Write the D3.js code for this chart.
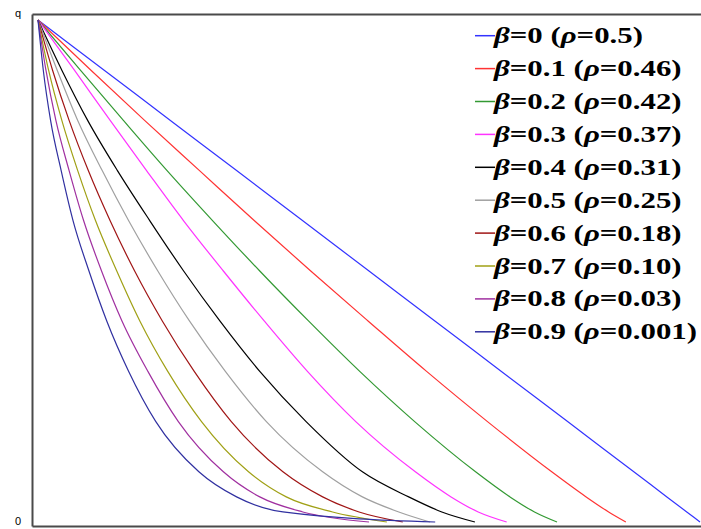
<!DOCTYPE html>
<html>
<head>
<meta charset="utf-8">
<script src="https://cdn.jsdelivr.net/npm/d3@7"></script>
<style>
  html, body { margin: 0; padding: 0; background: #ffffff; }
  svg { display: block; }
  .legend-label { font-family: "Liberation Serif", "DejaVu Serif", serif; font-weight: bold; }
  .end-label { font-family: "Liberation Sans", Arial, sans-serif; }
</style>
</head>
<body>
<svg id="chart" width="701" height="529"></svg>
<script>
// q levels at which each curve's horizontal position is listed
const qLevels = [1, 0.9, 0.8, 0.7, 0.6, 0.5, 0.4, 0.3, 0.2, 0.1, 0.05, 0.02, 0];

// legend labels and series colours
const betaLabels = ["0", "0.1", "0.2", "0.3", "0.4", "0.5", "0.6", "0.7", "0.8", "0.9"];
const rhoLabels = ["0.5", "0.46", "0.42", "0.37", "0.31", "0.25", "0.18", "0.10", "0.03", "0.001"];
const seriesColors = ["#3333ff", "#ff3333", "#339933", "#ff33ff", "#000000",
                      "#a0a0a0", "#a01515", "#a0a015", "#a030a0", "#3030a0"];

// horizontal position (0..1) of each curve at the q levels above
const beta00 = [0, 0.100, 0.200, 0.300, 0.400, 0.500, 0.600, 0.700, 0.800, 0.900, 0.950, 0.980, 1.000];
const beta01 = [0, 0.080, 0.161, 0.244, 0.327, 0.412, 0.499, 0.587, 0.679, 0.776, 0.828, 0.862, 0.888];
const beta02 = [0, 0.064, 0.129, 0.195, 0.264, 0.335, 0.409, 0.486, 0.569, 0.661, 0.713, 0.750, 0.784];
const beta03 = [0, 0.055, 0.109, 0.164, 0.220, 0.280, 0.342, 0.407, 0.480, 0.570, 0.624, 0.665, 0.708];
const beta04 = [0, 0.036, 0.075, 0.120, 0.169, 0.220, 0.275, 0.335, 0.405, 0.490, 0.560, 0.610, 0.660];
const beta05 = [0, 0.029, 0.060, 0.097, 0.137, 0.181, 0.229, 0.283, 0.345, 0.430, 0.490, 0.545, 0.592];
const beta06 = [0, 0.022, 0.047, 0.076, 0.109, 0.146, 0.188, 0.236, 0.292, 0.370, 0.430, 0.485, 0.551];
const beta07 = [0, 0.016, 0.036, 0.060, 0.087, 0.119, 0.154, 0.196, 0.247, 0.318, 0.375, 0.445, 0.527];
const beta08 = [0, 0.012, 0.027, 0.047, 0.069, 0.096, 0.127, 0.166, 0.212, 0.280, 0.335, 0.400, 0.500];
const beta09 = [0, 0.008, 0.019, 0.035, 0.053, 0.077, 0.104, 0.137, 0.178, 0.243, 0.300, 0.370, 0.600];

const seriesX = [beta00, beta01, beta02, beta03, beta04, beta05, beta06, beta07, beta08, beta09];

// axis end labels
const yTickValues = [0, 1];
const yTickLabels = ["0", "q"];

const svg = d3.select("#chart");

// plotting scales
const x = d3.scaleLinear().domain([0, 1]).range([38, 700]);
const y = d3.scaleLinear().domain([0, 1]).range([522, 20]);
// frame scales (slightly wider than the data area)
const yFrame = d3.scaleLinear().domain([0, 1]).range([526, 14]);
const xFrame = d3.scaleLinear().domain([0, 1]).range([32, 702]);

// curves
const line = d3.line()
  .x(d => x(d[0]))
  .y(d => y(d[1]))
  .curve(d3.curveMonotoneX);

svg.append("g")
  .selectAll("path")
  .data(seriesX)
  .join("path")
  .attr("d", xs => line(xs.map((v, i) => [v, qLevels[i]])))
  .attr("fill", "none")
  .attr("stroke", (d, i) => seriesColors[i])
  .attr("stroke-width", 1.2);

// frame: left, top and bottom edges
const frameColor = "#4a4a4a";
const leftAxis = d3.axisLeft(yFrame)
  .tickValues(yTickValues)
  .tickSize(0)
  .tickPadding(11)
  .tickFormat((d, i) => yTickLabels[i]);

const gLeft = svg.append("g").attr("transform", `translate(${xFrame(0)},0)`).call(leftAxis);
gLeft.attr("font-family", null);
gLeft.select(".domain").attr("stroke", frameColor).attr("stroke-width", 2);
gLeft.selectAll("text")
  .attr("class", "end-label")
  .attr("font-size", 11)
  .attr("fill", "#000")
  .attr("dy", (d, i) => i === 0 ? "-0.15em" : "0.2em");

const topAxis = d3.axisTop(xFrame).tickValues([]).tickSizeOuter(0);
const gTop = svg.append("g").attr("transform", `translate(0,${yFrame(1)})`).call(topAxis);
gTop.select(".domain").attr("stroke", frameColor).attr("stroke-width", 2);

const bottomAxis = d3.axisBottom(xFrame).tickValues([]).tickSizeOuter(0);
const gBottom = svg.append("g").attr("transform", `translate(0,${yFrame(0)})`).call(bottomAxis);
gBottom.select(".domain").attr("stroke", frameColor).attr("stroke-width", 2);

// legend
const legend = svg.append("g").attr("transform", "translate(475,0)");
const rowY = i => 35.7 + i * 32.9;

const rows = legend.selectAll("g.row")
  .data(betaLabels)
  .join("g")
  .attr("class", "row")
  .attr("transform", (d, i) => `translate(0,${rowY(i)})`);

rows.append("line")
  .attr("x1", 0).attr("x2", 20)
  .attr("y1", 0).attr("y2", 0)
  .attr("stroke", (d, i) => seriesColors[i])
  .attr("stroke-width", 1.5);

const label = rows.append("text")
  .attr("class", "legend-label")
  .attr("x", 19)
  .attr("y", 7.5)
  .style("font-size", "23px")
  .attr("fill", "#000");

label.append("tspan").style("font-style", "italic").text("β");
label.append("tspan").text(d => "=" + d + " (");
label.append("tspan").style("font-style", "italic").text("ρ");
label.append("tspan").text((d, i) => "=" + rhoLabels[i] + ")");

// stretch the glyphs so the longest entry spans the legend column
const lengths = label.nodes().map(n => n.getComputedTextLength());
const stretch = 203 / lengths[lengths.length - 1];
label
  .attr("textLength", (d, i) => (lengths[i] * stretch).toFixed(1))
  .attr("lengthAdjust", "spacingAndGlyphs");
</script>
</body>
</html>
